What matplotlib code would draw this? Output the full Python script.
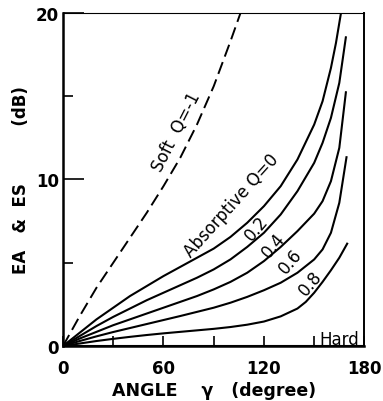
import matplotlib
matplotlib.use("Agg")
import matplotlib.pyplot as plt

# --- data ---
# Soft surface, Q = -1 (dashed)
angle_soft = [0, 10, 20, 30, 40, 50, 60, 70, 80, 90, 100, 106]
ea_soft = [0, 1.8, 3.5, 5.0, 6.5, 8.0, 9.6, 11.3, 13.3, 15.6, 18.3, 20.0]

# Absorptive Q = 0
angle_q0 = [0, 10, 20, 30, 40, 50, 60, 70, 80, 90, 100, 110, 120, 130, 140, 150, 155, 160, 163, 166]
ea_q0 = [0, 0.8, 1.6, 2.3, 3.0, 3.6, 4.2, 4.75, 5.3, 5.85, 6.55, 7.4, 8.4, 9.6, 11.2, 13.3, 14.7, 16.7, 18.2, 20.0]

# Q = 0.2
angle_q02 = [0, 10, 20, 30, 40, 50, 60, 70, 80, 90, 100, 110, 120, 130, 140, 150, 155, 160, 165, 169]
ea_q02 = [0, 0.6, 1.2, 1.75, 2.25, 2.75, 3.2, 3.65, 4.1, 4.6, 5.2, 5.95, 6.8, 7.9, 9.3, 11.0, 12.2, 13.7, 15.8, 18.6]

# Q = 0.4
angle_q04 = [0, 10, 20, 30, 40, 50, 60, 70, 80, 90, 100, 110, 120, 130, 140, 150, 155, 160, 165, 169]
ea_q04 = [0, 0.45, 0.85, 1.25, 1.6, 1.95, 2.3, 2.65, 3.0, 3.4, 3.85, 4.4, 5.1, 5.95, 6.9, 7.95, 8.7, 9.9, 11.9, 15.3]

# Q = 0.6
angle_q06 = [0, 10, 20, 30, 40, 50, 60, 70, 80, 90, 100, 110, 120, 130, 140, 150, 155, 160, 165, 169.4]
ea_q06 = [0, 0.3, 0.58, 0.84, 1.08, 1.32, 1.56, 1.8, 2.05, 2.3, 2.6, 2.95, 3.35, 3.8, 4.4, 5.2, 5.8, 6.8, 8.6, 11.4]

# Q = 0.8
angle_q08 = [0, 10, 20, 30, 40, 50, 60, 70, 80, 90, 100, 110, 120, 130, 140, 145, 150, 155, 160, 165, 170]
ea_q08 = [0, 0.15, 0.3, 0.43, 0.55, 0.66, 0.76, 0.85, 0.94, 1.03, 1.14, 1.28, 1.47, 1.78, 2.25, 2.65, 3.2, 3.85, 4.55, 5.3, 6.2]

# Hard surface, Q = 1 (lies on the axis)
angle_hard = [0, 180]
ea_hard = [0, 0]

x_ticks = [0, 60, 120, 180]
x_minor = [30, 90, 150]
y_ticks = [0, 10, 20]
y_minor = [5, 15]

# --- figure ---
fig = plt.figure(figsize=(3.83, 4.02), dpi=100)
ax = fig.add_axes([0.1645, 0.1368, 0.787, 0.8284])

lw = 1.5
ax.plot(angle_soft, ea_soft, color="black", lw=1.4, linestyle=(0, (6.5, 3)))
for a, e in [(angle_q0, ea_q0), (angle_q02, ea_q02), (angle_q04, ea_q04),
             (angle_q06, ea_q06), (angle_q08, ea_q08), (angle_hard, ea_hard)]:
    ax.plot(a, e, color="black", lw=lw, solid_capstyle="butt")

ax.set_xlim(0, 180)
ax.set_ylim(0, 20)

ax.set_xticks(x_ticks)
ax.set_xticks(x_minor, minor=True)
ax.set_yticks(y_ticks)
ax.set_yticks(y_minor, minor=True)
ax.tick_params(axis="x", which="both", direction="in", length=7, width=1.2, pad=9,
               labelsize=12)
ax.tick_params(axis="y", which="major", direction="in", length=15, width=1.2, pad=3,
               labelsize=12)
ax.tick_params(axis="y", which="minor", direction="in", length=7, width=1.2)
for lab in ax.get_xticklabels() + ax.get_yticklabels():
    lab.set_fontweight("bold")

ax.spines["left"].set_linewidth(1.8)
ax.spines["bottom"].set_linewidth(1.8)
ax.spines["right"].set_linewidth(1.4)
ax.spines["top"].set_linewidth(0.8)

ax.set_xlabel("ANGLE    γ   (degree)", fontsize=12.5, fontweight="bold", labelpad=3)
ax.set_ylabel("EA   &  ES          (dB)", fontsize=12, fontweight="bold", labelpad=4)

# curve labels
txt = dict(color="black", fontsize=12, ha="center", va="center", rotation_mode="anchor")
ax.text(67.8, 12.9, "Soft  Q=-1", rotation=63, **txt)
ax.text(100.5, 8.5, "Absorptive Q=0", rotation=48, **txt)
ax.text(115.6, 7.1, "0.2", rotation=50, **txt)
ax.text(125.6, 6.1, "0.4", rotation=50, **txt)
ax.text(136.0, 5.1, "0.6", rotation=50, **txt)
ax.text(148.0, 3.8, "0.8", rotation=50, **txt)
ax.text(164.8, 0.1, "Hard", color="black", fontsize=12, ha="center", va="baseline")

fig.savefig("out.png", dpi=100)
